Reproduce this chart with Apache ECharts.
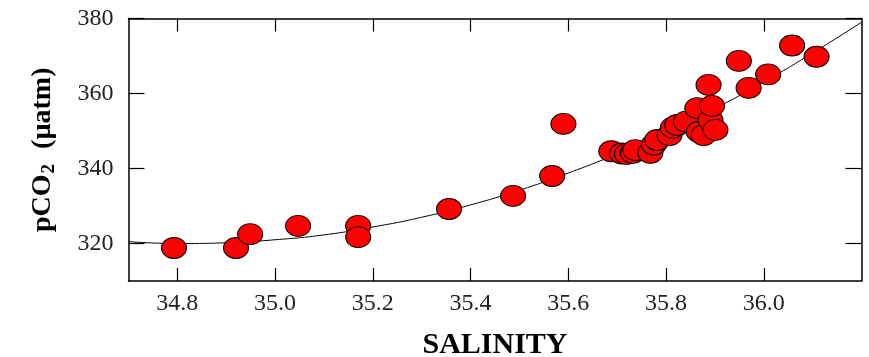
<!DOCTYPE html>
<html>
<head>
<meta charset="utf-8">
<script src="https://cdn.jsdelivr.net/npm/echarts@6/dist/echarts.min.js"></script>
<style>
  html, body { margin: 0; padding: 0; background: #fff; }
  #chart { width: 869px; height: 357px; }
</style>
</head>
<body>
<div id="chart"></div>
<script>
// measured samples
var salinity = [34.793, 34.920, 34.949, 35.047, 35.170, 35.170, 35.356, 35.487, 35.567, 35.590,
  35.688, 35.710, 35.720, 35.732, 35.737, 35.768, 35.775, 35.782, 35.807, 35.814,
  35.823, 35.841, 35.864, 35.867, 35.877, 35.887, 35.891, 35.894, 35.901, 35.949,
  35.969, 36.009, 36.058, 36.108];
var pco2 = [318.8, 318.8, 322.5, 324.7, 324.7, 321.7, 329.2, 332.7, 338.0, 351.9,
  344.6, 344.0, 343.9, 344.2, 344.9, 344.2, 346.4, 347.6, 348.9, 350.9,
  351.6, 352.5, 356.1, 349.8, 348.9, 362.3, 352.9, 356.7, 350.3, 368.7,
  361.5, 365.1, 372.8, 369.8];

// fitted curve
var fitSalinity = [34.7, 34.8, 34.9, 35.0, 35.1, 35.2, 35.3, 35.4, 35.5, 35.6, 35.7, 35.8, 35.9, 36.0, 36.1, 36.2];
var fitPco2 = [320.5, 320.0, 320.2, 321.0, 322.3, 324.4, 327.0, 330.3, 334.2, 338.8, 343.9, 349.7, 356.0, 363.1, 370.8, 379.0];

var xTicks = [34.8, 35.0, 35.2, 35.4, 35.6, 35.8, 36.0];
var yTicks = [320, 340, 360, 380];

var serif = 'Liberation Serif';
var chart = echarts.init(document.getElementById('chart'));

var axisLine = { show: true, lineStyle: { color: '#000', width: 1.5 } };

chart.setOption({
  animation: false,
  grid: { left: 128.5, right: 7.5, top: 18.5, bottom: 76, containLabel: false, outerBoundsMode: 'none' },
  xAxis: [{
    type: 'value', min: 34.7, max: 36.2, interval: 0.1,
    name: 'SALINITY', nameLocation: 'middle', nameGap: 49,
    nameTextStyle: { fontFamily: serif, fontWeight: 'bold', fontSize: 30, color: '#000' },
    axisLine: axisLine,
    axisTick: { inside: true, length: 13, lineStyle: { color: '#000', width: 1.2 },
      customValues: xTicks },
    axisLabel: { fontFamily: serif, fontSize: 24, color: '#222', margin: 11,
      customValues: xTicks, formatter: function (v) { return v.toFixed(1); } },
    splitLine: { show: false }
  }, {
    type: 'value', position: 'top', min: 34.7, max: 36.2, interval: 0.1,
    axisLine: axisLine,
    axisTick: { inside: true, length: 13, lineStyle: { color: '#000', width: 1.2 },
      customValues: xTicks },
    axisLabel: { show: false },
    splitLine: { show: false }
  }],
  yAxis: [{
    type: 'value', min: 310, max: 380, interval: 10,
    name: '{b|pCO}{s|2}{b|  (µatm)}', nameLocation: 'middle', nameGap: 70, nameRotate: 90,
    nameTextStyle: {
      rich: {
        b: { fontFamily: serif, fontWeight: 'bold', fontSize: 28, color: '#000' },
        s: { fontFamily: serif, fontWeight: 'bold', fontSize: 19, color: '#000', padding: [13, 1, 0, 1] }
      }
    },
    axisLine: axisLine,
    axisTick: { inside: true, length: 16, lineStyle: { color: '#000', width: 1.2 },
      customValues: yTicks },
    axisLabel: { fontFamily: serif, fontSize: 24, color: '#222', margin: 15, customValues: yTicks },
    splitLine: { show: false }
  }, {
    type: 'value', position: 'right', min: 310, max: 380, interval: 10,
    axisLine: axisLine,
    axisTick: { inside: true, length: 16, lineStyle: { color: '#000', width: 1.2 },
      customValues: yTicks },
    axisLabel: { show: false },
    splitLine: { show: false }
  }],
  series: [{
    type: 'line',
    data: fitSalinity.map(function (x, i) { return [x, fitPco2[i]]; }),
    smooth: true, symbol: 'none', clip: true, z: 1,
    lineStyle: { color: '#000', width: 1 }
  }, {
    type: 'scatter',
    data: salinity.map(function (x, i) { return [x, pco2[i]]; }),
    symbol: 'circle', symbolSize: [25, 21], z: 2,
    itemStyle: { color: '#ff0000', borderColor: '#000', borderWidth: 1, opacity: 1 }
  }]
});
</script>
</body>
</html>
